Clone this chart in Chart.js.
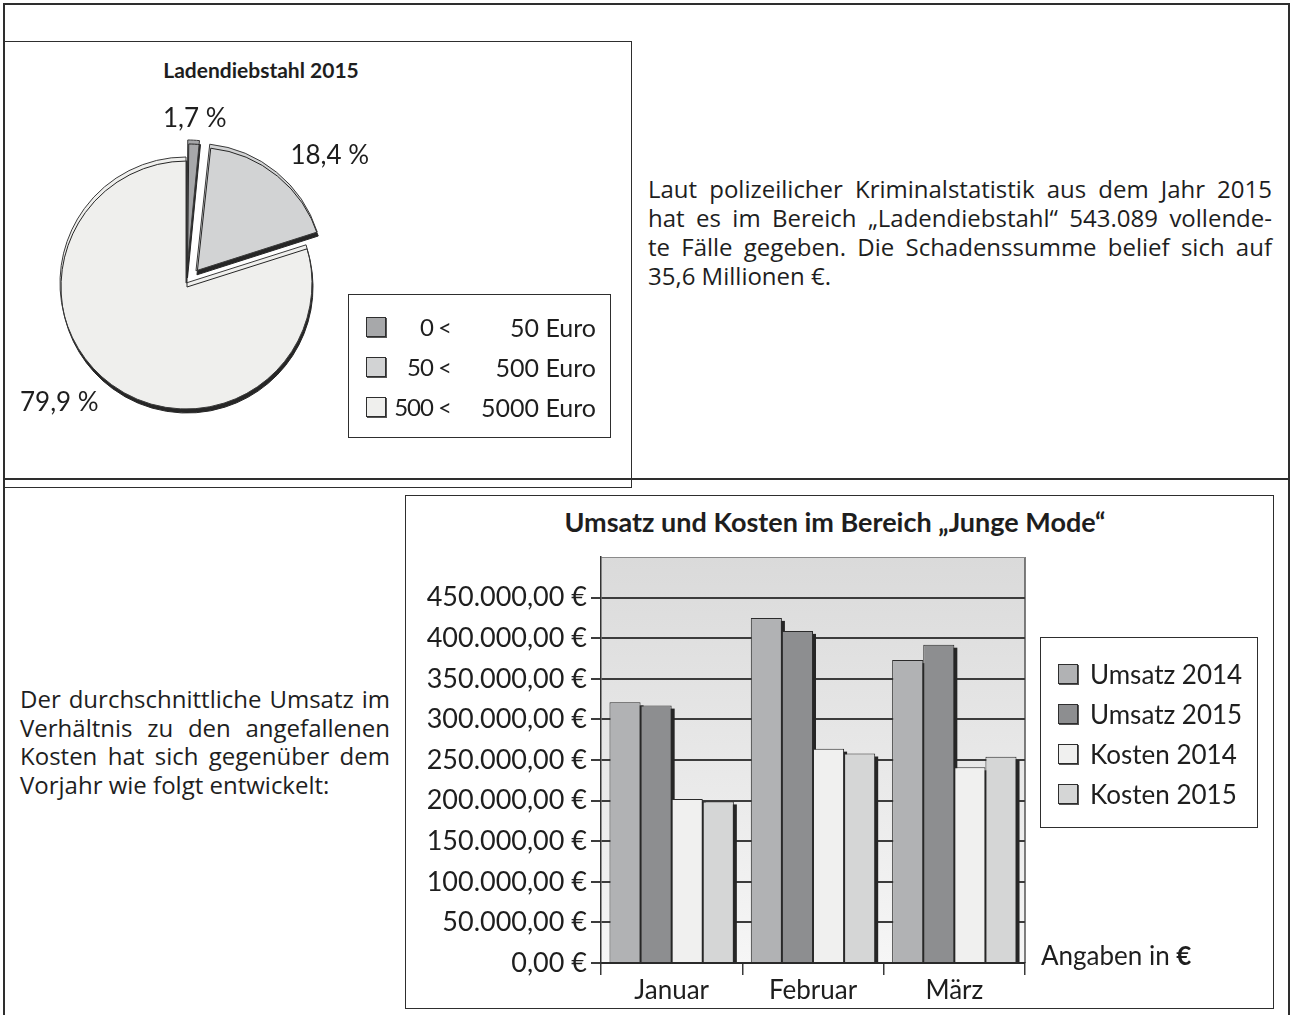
<!DOCTYPE html>
<html lang="de">
<head>
<meta charset="utf-8">
<title>Ladendiebstahl 2015 / Umsatz und Kosten</title>
<script src="https://cdn.jsdelivr.net/npm/chart.js@4.4.1/dist/chart.umd.min.js"></script>
<style>
  body { margin: 0; background: #fff; font-family: Lato, "Open Sans", sans-serif; color: #1e1e1e; }
  #page { position: relative; width: 1292px; height: 1015px; overflow: hidden; }
  .rule { position: absolute; background: #2e2e2e; }
  .box { position: absolute; border: 1.5px solid #2e2e2e; box-sizing: border-box; }
  .title { position: absolute; font-weight: 700; font-size: 21px; white-space: nowrap; transform: translateX(-50%); }
  .para { position: absolute; font-family: "Open Sans", Lato, sans-serif; font-size: 24px; font-weight: 400; }
  .para div { text-align: justify; text-align-last: justify; white-space: nowrap; }
  .para div.last { text-align-last: left; }
  .note { position: absolute; font-size: 26px; line-height: 32px; white-space: nowrap; }
  .legend-row { position: absolute; left: 0; right: 0; height: 32px; line-height: 32px; font-size: 26px; white-space: nowrap; }
  .swatch { position: absolute; top: 6px; width: 20px; height: 20px; border: 1.5px solid #2e2e2e; box-sizing: border-box; box-shadow: 1px 1px 0 #555; }
  canvas { position: absolute; }
</style>
</head>
<body>
<div id="page">
  <!-- page frame -->
  <div class="rule" style="left:3px; top:3px; width:1287px; height:2px;"></div>
  <div class="rule" style="left:3px; top:3px; width:2px; height:1012px;"></div>
  <div class="rule" style="left:1288px; top:3px; width:2px; height:1012px;"></div>
  <div class="rule" style="left:3px; top:478px; width:1287px; height:2px;"></div>

  <!-- pie block -->
  <div class="box" style="left:4px; top:41px; width:628px; height:447px;"></div>
  <div class="title" style="left:261px; top:57px;">Ladendiebstahl 2015</div>
  <canvas id="pieChart" width="626" height="444" style="left:5px; top:42px;"></canvas>
  <div id="pieLegend" class="box" style="left:348px; top:294px; width:263px; height:144px;"></div>

  <div class="para" style="left:648px; top:174px; width:624px; line-height:29px;">
    <div>Laut polizeilicher Kriminalstatistik aus dem Jahr 2015</div>
    <div>hat es im Bereich „Ladendiebstahl“ 543.089 vollende-</div>
    <div>te Fälle gegeben. Die Schadenssumme belief sich auf</div>
    <div class="last">35,6 Millionen €.</div>
  </div>

  <!-- bar block -->
  <div class="para" style="left:20px; top:685px; width:370px; line-height:28.5px;">
    <div>Der durchschnittliche Umsatz im</div>
    <div>Verhältnis zu den angefallenen</div>
    <div>Kosten hat sich gegenüber dem</div>
    <div class="last">Vorjahr wie folgt entwickelt:</div>
  </div>

  <div class="box" style="left:405px; top:495px; width:869px; height:514px;"></div>
  <div class="title" style="left:835px; top:505px; font-size:27px;">Umsatz und Kosten im Bereich „Junge Mode“</div>
  <canvas id="barChart" width="866" height="512" style="left:406px; top:496px;"></canvas>
  <div id="barLegend" class="box" style="left:1040px; top:637px; width:218px; height:191px;"></div>
  <div class="note" style="left:1041px; top:939px;">Angaben in <b>€</b></div>
</div>

<script>
// Pie: Ladendiebstahl 2015, share of cases per damage range (percent)
const rangeFrom = [0, 50, 500];
const rangeTo = [50, 500, 5000];
const shares = [1.7, 18.4, 79.9];

// Bars: Umsatz und Kosten "Junge Mode"
const months = ['Januar', 'Februar', 'März'];
const seriesNames = ['Umsatz 2014', 'Umsatz 2015', 'Kosten 2014', 'Kosten 2015'];
const umsatz2014 = [321000, 425000, 373000];
const umsatz2015 = [317000, 409000, 392000];
const kosten2014 = [202000, 264000, 241000];
const kosten2015 = [199000, 258000, 254000];
const yMax = 500000;
const yStep = 50000;

// colours
const pieColors = ['#a7a8aa', '#d2d3d4', '#efefed'];
const barColors = ['#b1b2b4', '#8d8e90', '#f0f0ef', '#d5d6d6'];

Chart.defaults.font.family = 'Lato, "Open Sans", sans-serif';
Chart.defaults.color = '#1e1e1e';

function formatEuro(v) {
    const s = Math.round(v).toString().replace(/\B(?=(\d{3})+(?!\d))/g, '.');
    return s + ',00 €';
}

function formatPercent(v) {
    return v.toFixed(1).replace('.', ',') + ' %';
}

// Pie legend
const pieLegend = document.getElementById('pieLegend');
shares.forEach((s, i) => {
    const row = document.createElement('div');
    row.className = 'legend-row';
    row.style.top = (16 + i * 40) + 'px';
    row.style.fontSize = '25px';
    row.innerHTML =
        '<span class="swatch" style="left:17px; background:' + pieColors[i] + '"></span>' +
        '<span style="position:absolute; left:0; width:102px; text-align:right; font-size:24px; letter-spacing:-1px;">' + rangeFrom[i] + ' &lt;</span>' +
        '<span style="position:absolute; left:102px; width:145px; text-align:right;">' + rangeTo[i] + ' Euro</span>';
    pieLegend.appendChild(row);
});

// Bar legend
const barLegend = document.getElementById('barLegend');
seriesNames.forEach((name, i) => {
    const row = document.createElement('div');
    row.className = 'legend-row';
    row.style.top = (20 + i * 40) + 'px';
    row.innerHTML =
        '<span class="swatch" style="left:17px; background:' + barColors[i] + '"></span>' +
        '<span style="position:absolute; left:49px;">' + name + '</span>';
    barLegend.appendChild(row);
});

// how far Chart.js v4 really moves an arc for a given offset option
function arcShift(arc) {
    const o = (arc.options.offset || 0) / 4;
    const fix = 1 - Math.sin(Math.min(Math.PI, arc.circumference || 0));
    return o + o * fix;
}

// canvas shadow while a dataset is drawn (used for the pie)
const arcShadow = {
    id: 'arcShadow',
    beforeDatasetDraw(chart) {
        const ctx = chart.ctx;
        ctx.save();
        ctx.shadowColor = '#262626';
        ctx.shadowOffsetX = 1;
        ctx.shadowOffsetY = 4;
        ctx.shadowBlur = 0;
    },
    afterDatasetDraw(chart) {
        chart.ctx.restore();
    }
};

// percent labels outside the slices
const sliceLabels = {
    id: 'sliceLabels',
    afterDatasetsDraw(chart) {
        const ctx = chart.ctx;
        const meta = chart.getDatasetMeta(0);
        const values = chart.data.datasets[0].data;
        ctx.save();
        ctx.font = '26px Lato, "Open Sans", sans-serif';
        ctx.fillStyle = '#1e1e1e';
        ctx.textBaseline = 'middle';
        meta.data.forEach((arc, i) => {
            const mid = (arc.startAngle + arc.endAngle) / 2;
            const cos = Math.cos(mid), sin = Math.sin(mid);
            const d = arc.outerRadius + arcShift(arc) + 22;
            ctx.textAlign = Math.abs(cos) < 0.2 ? 'center' : (cos > 0 ? 'left' : 'right');
            ctx.fillText(formatPercent(values[i]), arc.x + cos * d, arc.y + sin * d);
        });
        ctx.restore();
    }
};

new Chart(document.getElementById('pieChart'), {
    type: 'pie',
    data: {
        labels: shares.map((s, i) => rangeFrom[i] + ' < ' + rangeTo[i] + ' Euro'),
        datasets: [{
            data: shares,
            backgroundColor: pieColors,
            borderColor: '#3a3a3a',
            borderWidth: 1,
            offset: [36, 63, 0]
        }]
    },
    options: {
        responsive: false,
        animation: false,
        layout: { padding: { left: 23, top: 83, right: 287, bottom: 45 } },
        plugins: {
            legend: { display: false },
            tooltip: { enabled: false }
        }
    },
    plugins: [arcShadow, sliceLabels]
});

// gradient plot background and right edge
const plotBackground = {
    id: 'plotBackground',
    beforeDraw(chart) {
        const { ctx, chartArea: a } = chart;
        const g = ctx.createLinearGradient(0, a.top, 0, a.bottom);
        g.addColorStop(0, '#dadada');
        g.addColorStop(1, '#f6f6f6');
        ctx.save();
        ctx.fillStyle = g;
        ctx.fillRect(a.left, a.top, a.right - a.left, a.bottom - a.top);
        ctx.strokeStyle = '#555';
        ctx.lineWidth = 1.5;
        ctx.beginPath();
        ctx.moveTo(a.right, a.top);
        ctx.lineTo(a.right, a.bottom);
        ctx.stroke();
        ctx.restore();
    }
};

// dark offset shadow behind every bar
const barShadow = {
    id: 'barShadow',
    beforeDatasetsDraw(chart) {
        const ctx = chart.ctx;
        ctx.save();
        ctx.fillStyle = '#262626';
        chart.getSortedVisibleDatasetMetas().forEach(meta => {
            meta.data.forEach(bar => {
                const p = bar.getProps(['x', 'y', 'base', 'width'], true);
                ctx.fillRect(p.x - p.width / 2 + 3, p.y + 3, p.width, p.base - p.y - 3);
            });
        });
        ctx.restore();
    }
};

const isTop = c => c.tick && c.tick.value >= yMax;

new Chart(document.getElementById('barChart'), {
    type: 'bar',
    data: {
        labels: months,
        datasets: [umsatz2014, umsatz2015, kosten2014, kosten2015].map((values, i) => ({
            label: seriesNames[i],
            data: values,
            backgroundColor: barColors[i],
            borderColor: '#2b2b2b',
            borderWidth: 1,
            borderSkipped: 'start'
        }))
    },
    options: {
        responsive: false,
        animation: false,
        layout: { padding: { top: 61, right: 247, left: 0, bottom: 0 } },
        datasets: { bar: { categoryPercentage: 0.88, barPercentage: 1 } },
        plugins: {
            legend: { display: false },
            tooltip: { enabled: false }
        },
        scales: {
            x: {
                grid: { offset: true, drawOnChartArea: false, tickLength: 12, color: '#3a3a3a', lineWidth: 1.5 },
                border: { color: '#2a2a2a', width: 2 },
                ticks: { font: { size: 26 }, color: '#1e1e1e', padding: 0 },
                afterFit: s => { s.height = 45; s.paddingLeft = 0; s.paddingRight = 0; }
            },
            y: {
                min: 0,
                max: yMax,
                ticks: {
                    stepSize: yStep,
                    callback: v => v >= yMax ? '' : formatEuro(v),
                    font: { size: 27 },
                    color: '#1e1e1e',
                    padding: 4
                },
                grid: {
                    color: c => isTop(c) ? '#8a8a8a' : '#3c3c3c',
                    lineWidth: c => isTop(c) ? 1 : 2,
                    tickColor: c => isTop(c) ? 'rgba(0,0,0,0)' : '#3c3c3c',
                    tickLength: 10
                },
                border: { color: '#333', width: 1.5 },
                afterFit: s => { s.width = 195; s.paddingTop = 0; s.paddingBottom = 0; }
            }
        }
    },
    plugins: [plotBackground, barShadow]
});
</script>
</body>
</html>
